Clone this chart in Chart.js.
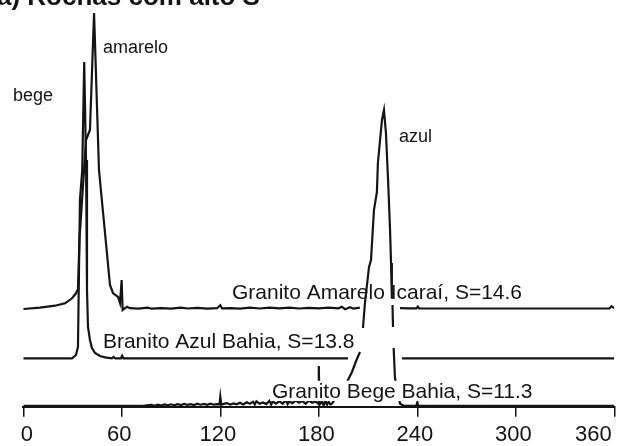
<!DOCTYPE html>
<html>
<head>
<meta charset="utf-8">
<script src="https://cdn.jsdelivr.net/npm/chart.js@4/dist/chart.umd.min.js"></script>
<style>
  html, body { margin: 0; padding: 0; background: #fff; overflow: hidden; }
  canvas { display: block; }
</style>
</head>
<body>
<canvas id="c" width="617" height="446"></canvas>
<script>
// ---- data (angle in degrees, intensity in arbitrary offset units) ----
const xTicks = [0, 60, 120, 180, 240, 300, 360];

const amareloX = [
  0, 10.2, 19.3, 25.4, 29.7, 32.1, 33.3, 34.2, 38.2, 40.6,
  43.1, 46.1, 49.6, 52.8, 54.6, 57.7, 58.9, 59.9, 60.5, 63.2,
  65, 70, 76, 78, 84, 90, 96, 100, 106, 112,
  118, 120, 121, 126, 132, 138, 144, 150, 156, 162,
  168, 174, 180, 186, 192, 194, 196, 199, 201, 205,
  217, 229.5, 235, 239.5, 240.3, 241.2, 260, 300, 340, 357, 358.3, 360
];
const amareloY = [
  97.7, 99, 101, 103.4, 108.4, 113.4, 117.4, 166.7, 266.7, 276.7,
  393.7, 236.7, 176.7, 121.7, 113.7, 109.7, 103.7, 126.7, 96.7, 100,
  98.5, 98, 99, 98, 98.5, 98, 99, 98.2, 98.8, 98,
  98.5, 101.5, 98.3, 98.5, 98, 99, 98.2, 99, 98.4, 99,
  98.2, 98.8, 98.3, 99, 98.4, 100, 97.5, 99.5, 98, 99,
  null, 98.5, 98.3, 98.3, 100.2, 98.3, 98.2, 98.2, 98.2, 98.2, 100.5, 98.6
];

const azulX = [
  0, 29.7, 32.1, 33.3, 34.5, 35.9, 37.1, 38.2, 38.8, 39.4,
  40.6, 41.8, 43.7, 46.7, 49.8, 54, 55, 56, 59.5, 60.2,
  61, 120, 197.8, 214, 230.7, 360
];
const azulY = [
  48.4, 48.4, 51.7, 59.7, 206.7, 236.7, 344.7, 246.7, 116.7, 79.7,
  66.7, 58.7, 53.7, 50.7, 49.4, 48.4, 49.8, 48.4, 48.4, 51,
  48.4, 48.4, 48.4, null, 48.4, 48.4
];

const begeX = [
  0, 60, 74, 78, 80, 82, 84, 86, 88, 90,
  92, 94, 96, 98, 100, 102, 104, 106, 108, 110,
  112, 114, 116, 118, 119.5, 120, 120.6, 122, 124, 126,
  128, 130, 132, 134, 136, 138, 140, 141, 142, 144,
  146, 148, 150, 151, 152, 154, 156, 158, 160, 161,
  162, 164, 166, 168, 170, 172, 174, 176, 178, 179.6,
  180, 180.4, 182, 183, 184, 185, 186, 187, 188, 197.2,
  200.2, 202.7, 205.1, 206, 206.9, 208.1, 209.7, 210.6, 211.8, 213.6,
  215.4, 216, 217.9, 218.5, 219.7, 220.9, 222.2, 223.4, 224, 224.5,
  224.7, 224.9, 225.2, 225.4, 225.6, 226.4, 229.5, 232, 239.4, 240,
  240.6, 300, 360
];
const begeY = [
  0.8, 0.8, 1, 1.8, 1, 2, 1.2, 2.2, 1.4, 2.4,
  1.5, 2.6, 1.6, 2.8, 1.8, 2.6, 1.6, 3, 2, 2.8,
  1.8, 3, 2, 2.6, 2.4, 10, 2, 2.8, 3.6, 2.2,
  3.2, 2.4, 4, 2.2, 4.4, 3, 5, 2.2, 5.4, 3,
  4.2, 2.6, 6, 2.2, 5.2, 3, 5.6, 3, 6.6, 2.6,
  5.2, 3.6, 6.2, 4, 5.6, 3, 6.2, 4, 5.2, 3,
  40.7, 2, 5, 1.2, 6, 2, 5, 2.4, 3, 24.7,
  34.7, 45.7, 54.7, null, 78.7, 103.7, 126.7, 139.7, 146.7, 196.7,
  214.7, 243.7, 276.7, 286.7, 296.7, 273.7, 226.7, 176.7, 143.7, 108,
  null, 101.7, 79.7, null, 58.7, 28.7, 3, 0.8, 1, 4.5,
  1, 0.8, 0.8
];

const seriesNames = ['Granito Amarelo Icaraí', 'Branito Azul Bahia', 'Granito Bege Bahia'];

// ---- annotation texts ----
const titleText = 'a) Rochas com alto S';
const textLabels = [
  { text: 'amarelo', x: 48.5, y: 353.7, size: 18 },
  { text: 'bege', x: -6.3, y: 305.7, size: 18 },
  { text: 'azul', x: 228.9, y: 264.7, size: 18 },
  { text: 'Granito Amarelo Icaraí, S=14.6', x: 127.1, y: 107.7, size: 21 },
  { text: 'Branito Azul Bahia, S=13.8', x: 48.5, y: 58.7, size: 21 },
  { text: 'Granito Bege Bahia, S=11.3', x: 151.5, y: 8.7, size: 21, bg: true }
];

const FONT = "'Liberation Sans', Arial, Helvetica, sans-serif";
const INK = '#141414';

function pts(xs, ys) { return xs.map((x, i) => ({ x: x, y: ys[i] })); }

const labelPlugin = {
  id: 'textLabels',
  afterDatasetsDraw(chart) {
    const { ctx, scales } = chart;
    const sx = scales.x, sy = scales.y;
    ctx.save();
    ctx.textBaseline = 'alphabetic';
    ctx.textAlign = 'left';
    for (const l of textLabels) {
      ctx.font = l.size + 'px ' + FONT;
      const px = sx.getPixelForValue(l.x);
      const py = sy.getPixelForValue(l.y);
      if (l.bg) {
        const w = ctx.measureText(l.text).width;
        ctx.fillStyle = '#ffffff';
        ctx.fillRect(px - 2, py - l.size * 0.82, w + 4, l.size * 0.82 + 3);
      }
      ctx.fillStyle = INK;
      ctx.fillText(l.text, px, py);
    }
    ctx.font = 'bold 26px ' + FONT;
    ctx.fillStyle = INK;
    ctx.fillText(titleText, -3, 4.5);
    ctx.restore();
  }
};

const lineStyle = {
  borderColor: INK,
  borderWidth: 2.2,
  pointRadius: 0,
  tension: 0,
  fill: false,
  spanGaps: false
};

new Chart(document.getElementById('c'), {
  type: 'line',
  data: {
    datasets: [
      Object.assign({ label: seriesNames[0], data: pts(amareloX, amareloY) }, lineStyle),
      Object.assign({ label: seriesNames[1], data: pts(azulX, azulY) }, lineStyle),
      Object.assign({ label: seriesNames[2], data: pts(begeX, begeY) }, lineStyle)
    ]
  },
  options: {
    responsive: false,
    devicePixelRatio: 1,
    animation: false,
    layout: { padding: { left: 23.3, right: 2.7, top: 0, bottom: -6.3 } },
    plugins: { legend: { display: false }, tooltip: { enabled: false }, title: { display: false } },
    scales: {
      x: {
        type: 'linear',
        min: 0,
        max: 360,
        afterBuildTicks: (axis) => { axis.ticks = xTicks.map(v => ({ value: v })); },
        afterFit: (axis) => { axis.paddingLeft = 0; axis.paddingRight = 0; },
        grid: { display: true, drawOnChartArea: false, drawTicks: true, tickLength: 10, color: INK, lineWidth: 1.5 },
        border: { display: true, color: INK, width: 2 },
        ticks: {
          align: 'inner',
          labelOffset: -2.5,
          padding: 4.6,
          color: INK,
          font: { family: FONT, size: 22 },
          maxRotation: 0,
          autoSkip: false,
          callback: (v) => String(v)
        }
      },
      y: {
        type: 'linear',
        display: false,
        min: 0,
        max: 406.7
      }
    }
  },
  plugins: [labelPlugin]
});
</script>
</body>
</html>
